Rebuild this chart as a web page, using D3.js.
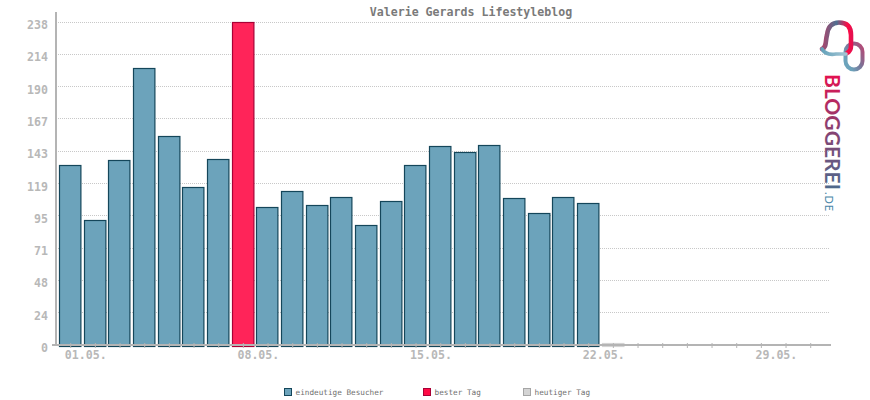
<!DOCTYPE html>
<html>
<head>
<meta charset="utf-8">
<script src="https://cdn.jsdelivr.net/npm/d3@7"></script>
<style>
  html, body { margin: 0; padding: 0; background: #fff; }
  svg { display: block; }
  text { font-family: "DejaVu Sans Mono", monospace; }
</style>
</head>
<body>
<div id="chart"></div>
<script>
const chartTitle = "Valerie Gerards Lifestyleblog";
const days = d3.range(1, 32);
const visitors = [132, 92, 136, 204, 154, 116, 137, 238, 101, 113, 103, 109, 88, 106, 132, 146, 142, 147, 108, 97, 109, 104, 1];
const bestDay = 8;
const todayDay = 23;
const yTicks = [0, 23.8, 47.6, 71.4, 95.2, 119, 142.8, 166.6, 190.4, 214.2, 238];
const xTickDays = [1, 8, 15, 22, 29];
const xTickLabels = ["01.05.", "08.05.", "15.05.", "22.05.", "29.05."];
const legendLabels = ["eindeutige Besucher", "bester Tag", "heutiger Tag"];

const width = 870;
const height = 400;
const margin = { top: 12, right: 40, bottom: 55, left: 56 };

const svg = d3
  .select("#chart")
  .append("svg")
  .attr("width", width)
  .attr("height", height);

const x = d3
  .scaleBand()
  .domain(days)
  .range([58.37, 823.04])
  .paddingInner(0.1)
  .paddingOuter(0.05);

const y = d3.scaleLinear().domain([0, 238]).range([345, 22]);

// gridlines first, the bars sit on top
const yAxis = d3
  .axisLeft(y)
  .tickValues(yTicks)
  .tickSize(0)
  .tickPadding(8)
  .tickFormat((d) => Math.round(d));

const yAxisG = svg
  .append("g")
  .attr("transform", `translate(${margin.left},0)`)
  .call(yAxis);
yAxisG.select(".domain").remove();
yAxisG
  .selectAll("text")
  .attr("dy", 6.5)
  .attr("y", 0)
  .attr("fill", "#b8b8b8")
  .style("font-size", "11.6px")
  .style("font-weight", "bold");

svg
  .append("g")
  .selectAll("line")
  .data(yTicks.filter((d) => d > 0))
  .join("line")
  .attr("x1", margin.left)
  .attr("x2", 830)
  .attr("y1", (d) => Math.floor(y(d)) + 0.5)
  .attr("y2", (d) => Math.floor(y(d)) + 0.5)
  .attr("stroke", "#c8c8c8")
  .attr("stroke-width", 1)
  .attr("stroke-dasharray", "1,1");

function barFill(day) {
  if (day === bestDay) return "#ff2459";
  if (day === todayDay) return "#d4d4d4";
  return "#6ca3bb";
}

function barStroke(day) {
  if (day === bestDay) return "#a80035";
  if (day === todayDay) return "#d4d4d4";
  return "#14465a";
}

svg
  .append("g")
  .selectAll("rect")
  .data(visitors)
  .join("rect")
  .attr("x", (d, i) => Math.floor(x(i + 1)) + 0.5)
  .attr("y", (d) => Math.floor(y(d)) + 0.5)
  .attr("width", 21.4)
  .attr("height", (d) => y(0) - Math.floor(y(d)) + 1)
  .attr("fill", (d, i) => barFill(i + 1))
  .attr("stroke", (d, i) => barStroke(i + 1))
  .attr("stroke-width", 1.2);

const xAxis = d3
  .axisBottom(x)
  .tickSize(3)
  .tickPadding(3)
  .tickFormat((d) => {
    const idx = xTickDays.indexOf(d);
    return idx >= 0 ? xTickLabels[idx] : "";
  });

const xAxisG = svg
  .append("g")
  .attr("transform", "translate(0,345)")
  .call(xAxis);
xAxisG.select(".domain").remove();
xAxisG
  .selectAll("line")
  .attr("y1", -2)
  .attr("stroke", "#b4b4b4");
xAxisG
  .selectAll("text")
  .attr("dx", 15)
  .attr("fill", "#b8b8b8")
  .style("font-size", "11.6px")
  .style("font-weight", "bold");

// axis lines
svg
  .append("line")
  .attr("x1", 52)
  .attr("x2", 831)
  .attr("y1", 345)
  .attr("y2", 345)
  .attr("stroke", "#b4b4b4")
  .attr("stroke-width", 2);

svg
  .append("line")
  .attr("x1", margin.left)
  .attr("x2", margin.left)
  .attr("y1", margin.top)
  .attr("y2", 346)
  .attr("stroke", "#b4b4b4")
  .attr("stroke-width", 2);

svg
  .append("text")
  .attr("x", 471)
  .attr("y", 16)
  .attr("text-anchor", "middle")
  .attr("fill", "#7a7a7a")
  .style("font-size", "11.6px")
  .style("font-weight", "bold")
  .text(chartTitle);

// legend
const legendSwatchX = [284, 423, 523];
const legendFill = ["#6ca3bb", "#ff0a45", "#d4d4d4"];
const legendStroke = ["#14465a", "#a80035", "#a5a5a5"];

const legend = svg
  .append("g")
  .selectAll("g")
  .data(legendLabels)
  .join("g")
  .attr("transform", (d, i) => `translate(${legendSwatchX[i]},388)`);

legend
  .append("rect")
  .attr("x", 0.5)
  .attr("y", 0.5)
  .attr("width", 7)
  .attr("height", 7)
  .attr("fill", (d, i) => legendFill[i])
  .attr("stroke", (d, i) => legendStroke[i]);

legend
  .append("text")
  .attr("x", 11.5)
  .attr("y", 7)
  .attr("fill", "#707070")
  .style("font-size", "7.7px")
  .text((d) => d);

// bloggerei logo
const defs = svg.append("defs");

function addGradient(id, attrs, stops) {
  const g = defs.append("linearGradient").attr("id", id);
  Object.entries(attrs).forEach(([k, v]) => g.attr(k, v));
  stops.forEach((s) => {
    g.append("stop").attr("offset", s[0]).attr("stop-color", s[1]);
  });
}

addGradient(
  "logoLoop",
  { gradientUnits: "userSpaceOnUse", x1: 824, y1: 40, x2: 852, y2: 40 },
  [[0, "#a04a70"], [0.45, "#4f6f91"], [0.85, "#ff0a45"], [1, "#e5104f"]]
);
addGradient(
  "logoLink",
  { gradientUnits: "userSpaceOnUse", x1: 820, y1: 50, x2: 848, y2: 54 },
  [[0, "#5f9fb8"], [1, "#a9c8d6"]]
);
addGradient(
  "logoRing",
  { gradientUnits: "userSpaceOnUse", x1: 846, y1: 60, x2: 864, y2: 50 },
  [[0, "#6ca3bb"], [0.5, "#7a7397"], [1, "#b04c78"]]
);
addGradient(
  "logoText",
  { x1: 0, y1: 0, x2: 1, y2: 0 },
  [[0, "#e5104f"], [0.45, "#8d3f70"], [1, "#4d6a8c"]]
);

const logo = svg.append("g").attr("fill", "none").attr("stroke-linecap", "round");

logo
  .append("rect")
  .attr("x", 845.5)
  .attr("y", 43.5)
  .attr("width", 17)
  .attr("height", 26)
  .attr("rx", 8.5)
  .attr("stroke", "url(#logoRing)")
  .attr("stroke-width", 4);

logo
  .append("path")
  .attr("d", "M822,49 C827,47 825,42 827,35 C828,26 832,22.5 839,22.5 C847,22.5 851,27 851,35 L851,46 Q851,51 847,53")
  .attr("stroke", "url(#logoLoop)")
  .attr("stroke-width", 4.6);

logo
  .append("path")
  .attr("d", "M822,49 C825,54 830,55 836,54 L846,54")
  .attr("stroke", "url(#logoLink)")
  .attr("stroke-width", 3.6);

svg
  .append("text")
  .attr("transform", "translate(824.5,74) rotate(90)")
  .attr("textLength", 116)
  .attr("lengthAdjust", "spacingAndGlyphs")
  .attr("fill", "url(#logoText)")
  .style("font-family", "Lato")
  .style("font-size", "21px")
  .style("font-weight", "bold")
  .text("BLOGGEREI");

svg
  .append("text")
  .attr("transform", "translate(825,192) rotate(90)")
  .attr("textLength", 19)
  .attr("fill", "#4a86a8")
  .style("font-family", "Lato")
  .style("font-size", "11px")
  .text(".DE");
</script>
</body>
</html>
